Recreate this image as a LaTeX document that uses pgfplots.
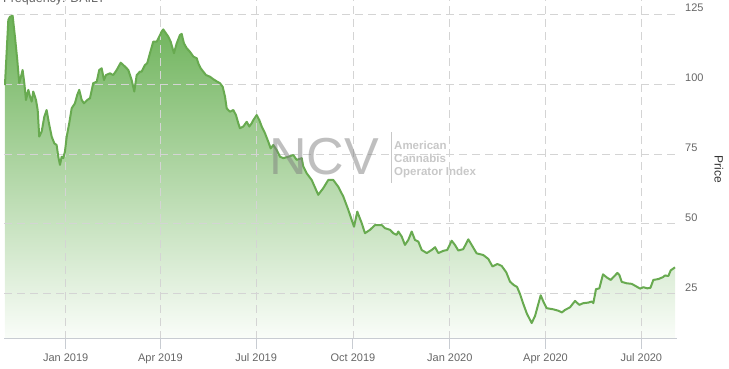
\documentclass[border=0pt]{standalone}
\usepackage{fontspec}
\setmainfont{Liberation Sans}
\usepackage{pgfplots}
\pgfplotsset{compat=1.18}
\usepackage{pgfplotstable}
\definecolor{linegreen}{RGB}{104,170,80}
\definecolor{filltop}{RGB}{108,178,88}
\definecolor{fillbot}{RGB}{250,253,249}
\definecolor{gridgray}{RGB}{212,212,212}
\definecolor{axisgray}{RGB}{200,204,210}
\definecolor{labelgray}{RGB}{102,102,102}
\definecolor{wmgray}{RGB}{200,200,200}
% x: days after 1 Jan 2019, y: price
\pgfplotstableread{
d v
-57.7 99.6
-54.5 122.9
-52.9 124.0
-50.4 124.4
-48.2 116.9
-46.0 108.6
-44.1 100.3
-42.5 102.6
-40.9 105.0
-39.3 100.3
-37.7 94.3
-35.5 97.9
-33.9 95.5
-32.3 93.7
-30.8 97.3
-28.2 94.3
-26.6 90.7
-25.1 81.2
-22.8 83.0
-20.3 88.3
-18.1 90.7
-15.9 86.0
-13.3 81.2
-10.8 78.8
-8.6 78.2
-7.0 74.0
-5.4 71.1
-3.8 74.0
-2.3 73.5
-0.7 75.8
1.0 81.2
3.4 86.0
5.7 91.3
8.8 93.1
11.0 96.1
12.9 97.9
15.2 94.3
17.4 93.1
20.5 94.3
23.1 94.9
26.2 100.3
29.5 100.8
31.9 105.0
34.2 105.6
36.4 101.4
38.3 103.2
42.1 103.8
45.2 103.2
48.5 105.0
52.3 107.6
56.4 106.2
59.5 105.0
62.7 101.4
65.2 97.3
67.5 103.2
70.6 104.4
72.2 104.4
75.4 106.8
77.5 107.4
80.1 111.0
83.2 115.1
86.5 115.1
88.9 116.9
91.2 118.7
92.7 119.5
95.3 118.1
97.5 116.9
99.8 115.1
102.9 111.0
105.5 114.5
108.6 117.5
110.2 117.9
112.4 114.5
115.0 112.8
118.1 111.5
121.3 109.8
124.5 109.2
126.0 107.4
128.3 105.6
130.8 104.4
133.3 103.2
137.1 102.6
140.3 101.7
144.1 100.8
146.6 100.3
149.2 99.0
151.4 95.5
153.0 91.3
156.1 90.1
159.3 90.7
161.8 88.9
164.0 86.0
165.6 84.2
168.8 84.8
172.0 86.5
174.5 84.8
176.8 86.0
178.3 87.1
181.5 88.9
184.0 87.1
186.3 84.8
189.4 82.4
192.5 79.4
194.8 77.0
197.3 78.2
200.5 76.4
203.7 74.0
206.8 73.5
211.5 74.0
216.3 74.6
219.5 72.9
224.3 73.5
225.8 70.5
229.0 68.1
233.8 65.7
240.0 60.4
244.8 62.8
249.5 65.7
254.3 65.7
259.0 63.3
263.8 59.8
268.6 55.0
271.8 51.4
274.0 49.0
277.1 54.4
281.3 50.3
284.4 46.7
289.2 47.9
293.9 49.6
300.3 49.6
303.4 48.5
308.2 47.9
311.3 46.7
314.5 46.1
316.1 47.3
319.3 45.5
322.4 42.5
325.6 44.3
328.8 47.3
331.9 44.3
335.1 43.7
338.3 40.7
343.1 39.6
347.8 40.7
351.0 41.7
354.1 39.6
358.9 40.4
362.6 40.7
366.8 44.0
369.9 42.5
373.1 40.5
377.8 41.0
382.6 44.5
385.8 42.5
390.5 39.5
396.8 38.9
401.6 37.5
405.6 34.8
410.2 35.7
414.3 35.0
418.7 32.7
422.2 29.4
425.7 28.2
428.9 27.5
431.7 25.0
434.9 21.4
438.1 18.1
442.8 14.6
446.0 17.1
449.1 21.4
451.4 24.5
453.9 22.3
457.1 19.9
463.4 19.5
468.1 19.0
471.6 18.4
474.5 19.3
479.2 20.2
484.0 22.5
488.1 21.1
491.9 21.7
496.6 21.9
499.9 22.3
501.4 21.7
503.9 26.7
507.1 27.0
510.6 32.0
514.1 30.9
517.9 30.0
522.0 31.6
524.2 32.5
526.1 31.8
528.4 29.3
533.1 28.8
537.9 28.6
542.6 27.6
545.8 26.9
548.9 27.4
552.7 27.0
555.7 27.2
558.4 30.0
563.1 30.3
567.6 31.0
569.5 31.6
572.7 31.4
574.9 33.4
579.0 34.5
}\pricedata
\begin{document}
\begin{tikzpicture}
\begin{axis}[
  set layers,
  at={(4pt,30pt)}, anchor=south west,
  scale only axis, width=673pt, height=339pt,
  xmin=-58.6, xmax=580.9, ymin=8.9, ymax=130,
  axis x line*=bottom, axis y line*=right,
  x axis line style={color=axisgray, line width=1pt, -},
  y axis line style={draw=none},
  xtick={0,90,181,273,365,456,547},
  xticklabels={Jan 2019,Apr 2019,Jul 2019,Oct 2019,Jan 2020,Apr 2020,Jul 2020},
  ytick={25,50,75,100,125},
  tick align=outside,
  major tick length=10pt,
  xtick style={color=axisgray, line width=1pt},
  ytick style={draw=none},
  grid=major,
  major grid style={color=gridgray, dash pattern=on 8pt off 5pt, line width=0.9pt},
  tick label style={font=\fontsize{11}{13}\selectfont, text=labelgray},
  xticklabel style={anchor=base, inner sep=0pt, yshift=-13pt},
  yticklabel style={anchor=base west, inner sep=0pt, xshift=-2pt, yshift=2.3pt},
  /pgf/number format/assume math mode=true,
]
\addplot[on layer=axis background, draw=none, top color=filltop, bottom color=fillbot] table[x=d, y=v] {\pricedata} \closedcycle;
\addplot[linegreen, line width=2pt, line join=round, mark=none] table[x=d, y=v] {\pricedata};
\end{axis}
% watermark
\node[anchor=base west, inner sep=0pt, text=gray, opacity=0.5, font=\fontsize{52}{52}\selectfont] at (269pt,194pt) {NCV};
\draw[wmgray, line width=1pt] (391pt,186pt) -- (391pt,237pt);
\node[anchor=base west, inner sep=0pt, text=wmgray, font=\bfseries\fontsize{11.5}{13}\selectfont] at (394pt,219.7pt) {American};
\node[anchor=base west, inner sep=0pt, text=wmgray, font=\bfseries\fontsize{11.5}{13}\selectfont] at (394pt,206.3pt) {Cannabis};
\node[anchor=base west, inner sep=0pt, text=wmgray, font=\bfseries\fontsize{11.5}{13}\selectfont] at (394pt,193pt) {Operator Index};
% axis title
\node[rotate=-90, inner sep=0pt, text={rgb,255:red,51;green,51;blue,51}, font=\fontsize{12}{14}\selectfont] at (719pt,199.5pt) {Price};
% header text (cut off at the top)
\node[anchor=base west, inner sep=0pt, text=labelgray, font=\fontsize{12.5}{14}\selectfont] at (3pt,366.5pt) {Frequency: DAILY};
\pgfresetboundingbox
\useasboundingbox (0pt,0pt) rectangle (729pt,369pt);
\end{tikzpicture}
\end{document}
